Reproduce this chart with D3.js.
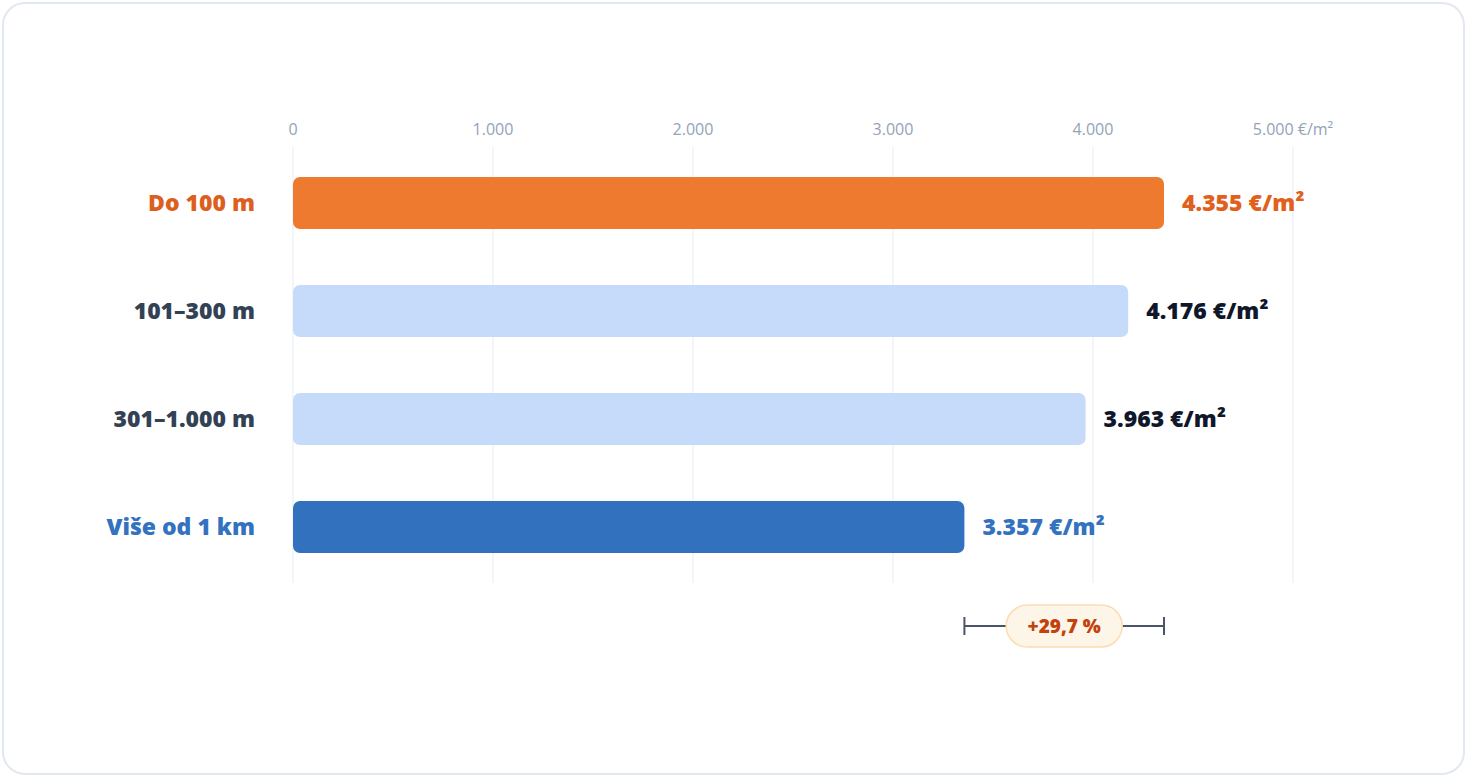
<!DOCTYPE html>
<html><head><meta charset="utf-8">
<script src="https://cdn.jsdelivr.net/npm/d3@7"></script>
<style>
html,body{margin:0;padding:0;background:#fff;}
svg{display:block;font-family:"Open Sans","Noto Sans",sans-serif;}
</style></head>
<body>
<svg id="chart" width="1469" height="778"></svg>
<script>
const categories = ["Do 100 m", "101–300 m", "301–1.000 m", "Više od 1 km"];
const values = [4355, 4176, 3963, 3357];
const valueLabels = ["4.355 €/m²", "4.176 €/m²", "3.963 €/m²", "3.357 €/m²"];
const tickValues = [0, 1000, 2000, 3000, 4000, 5000];
const tickLabels = ["0", "1.000", "2.000", "3.000", "4.000", "5.000 €/m²"];
const diffLabel = "+29,7 %";

const barFill = ["#ed7a2e", "#c6dafa", "#c6dafa", "#3171be"];
const labelFill = ["#dd5f1f", "#334155", "#334155", "#3372bf"];
const valueFill = ["#e0601c", "#0f172a", "#0f172a", "#3372bf"];

const svg = d3.select("#chart");
svg.append("rect").attr("x", 3).attr("y", 3).attr("width", 1461).attr("height", 771)
  .attr("rx", 22).attr("fill", "#fff").attr("stroke", "#e2e8f0").attr("stroke-width", 2);

const x = d3.scaleLinear().domain([0, 5000]).range([293, 1293]);
const y = d3.scaleBand().domain(categories).range([149, 581]).paddingInner(0.5185).paddingOuter(0.2593);

// grid
svg.append("g").selectAll("line").data(tickValues).join("line")
  .attr("x1", d => x(d)).attr("x2", d => x(d)).attr("y1", 147).attr("y2", 583)
  .attr("stroke", "#eef2f7").attr("stroke-width", 1.5);

// tick labels
svg.append("g").selectAll("text").data(tickValues).join("text")
  .attr("x", d => x(d)).attr("y", 135).attr("text-anchor", "middle")
  .attr("font-size", 16).attr("fill", "#94a3b8")
  .text((d, i) => tickLabels[i]);

// bars
svg.append("g").selectAll("rect").data(values).join("rect")
  .attr("x", x(0)).attr("y", (d, i) => y(categories[i]))
  .attr("width", d => x(d) - x(0)).attr("height", y.bandwidth())
  .attr("rx", 7).attr("fill", (d, i) => barFill[i]);

// category labels
svg.append("g").selectAll("text").data(categories).join("text")
  .attr("x", x(0) - 38).attr("y", d => y(d) + y.bandwidth() / 2)
  .attr("dy", "0.35em").attr("text-anchor", "end")
  .attr("font-size", 23).attr("font-weight", 800)
  .attr("fill", (d, i) => labelFill[i]).text(d => d);

// value labels
svg.append("g").selectAll("text").data(values).join("text")
  .attr("x", d => x(d) + 18).attr("y", (d, i) => y(categories[i]) + y.bandwidth() / 2)
  .attr("dy", "0.35em").attr("font-size", 23).attr("font-weight", 800)
  .attr("fill", (d, i) => valueFill[i]).text((d, i) => valueLabels[i]);

// difference bracket
const x1 = x(d3.min(values)), x2 = x(d3.max(values)), by = 626;
const g = svg.append("g").attr("stroke", "#475569").attr("stroke-width", 2);
g.append("line").attr("x1", x1).attr("x2", x2).attr("y1", by).attr("y2", by);
g.append("line").attr("x1", x1).attr("x2", x1).attr("y1", by - 9).attr("y2", by + 9);
g.append("line").attr("x1", x2).attr("x2", x2).attr("y1", by - 9).attr("y2", by + 9);
const cx = (x1 + x2) / 2;
svg.append("rect").attr("x", cx - 58).attr("y", by - 21).attr("width", 116).attr("height", 42)
  .attr("rx", 21).attr("fill", "#fef5e9").attr("stroke", "#fbdcb2").attr("stroke-width", 1.5);
svg.append("text").attr("x", cx).attr("y", by).attr("dy", "0.35em").attr("text-anchor", "middle")
  .attr("font-size", 19).attr("font-weight", 800).attr("fill", "#c2410c").text(diffLabel);
</script>
</body></html>
